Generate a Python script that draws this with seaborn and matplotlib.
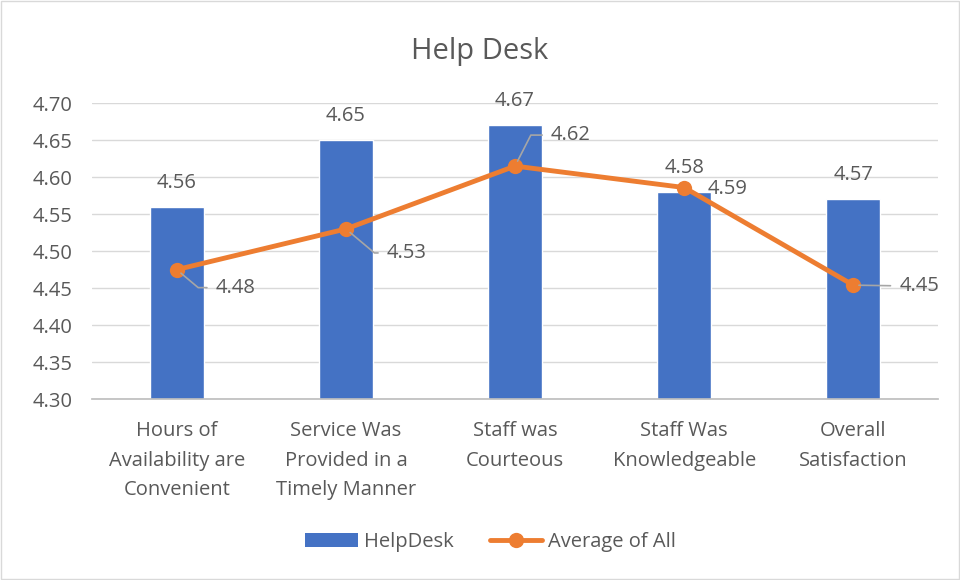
import numpy as np
import pandas as pd
import matplotlib
matplotlib.use("Agg")
import matplotlib.pyplot as plt
import seaborn as sns
from matplotlib.patches import Patch, Rectangle
from matplotlib.lines import Line2D

categories = ["Hours of\nAvailability are\nConvenient",
              "Service Was\nProvided in a\nTimely Manner",
              "Staff was\nCourteous",
              "Staff Was\nKnowledgeable",
              "Overall\nSatisfaction"]
helpdesk = [4.56, 4.65, 4.67, 4.58, 4.57]
average_all = [4.475, 4.53, 4.615, 4.586, 4.454]
average_labels = ["4.48", "4.53", "4.62", "4.59", "4.45"]
yticks = [4.30, 4.35, 4.40, 4.45, 4.50, 4.55, 4.60, 4.65, 4.70]

sns.set_theme(style="white")
plt.rcParams['font.family'] = ['Open Sans', 'DejaVu Sans']
TXT = "#595959"
BLUE = "#4472C4"
ORANGE = "#ED7D31"
FS = 14.5

fig = plt.figure(figsize=(9.6, 5.8), dpi=100)
ax = fig.add_axes([0.096, 0.312, 0.881, 0.510])

df = pd.DataFrame({"cat": categories, "HelpDesk": helpdesk, "avg": average_all})
sns.barplot(data=df, x="cat", y="HelpDesk", color=BLUE, saturation=1, width=0.32, ax=ax, zorder=2)
xs = np.arange(len(categories))
sns.lineplot(x=xs, y=average_all, color=ORANGE, linewidth=3.5, marker="o", markersize=11,
             markeredgewidth=0, ax=ax, zorder=3)

ax.set_ylim(4.30, 4.70)
ax.set_xlim(-0.5, len(categories) - 0.5)
ax.set_yticks(yticks)
ax.set_yticklabels([f"{v:.2f}" for v in yticks])
ax.yaxis.grid(True, color="#D9D9D9", linewidth=1, zorder=0)
ax.set_axisbelow(True)
for s in ["left", "right", "top"]:
    ax.spines[s].set_visible(False)
ax.spines["bottom"].set_color("#BFBFBF")
ax.tick_params(axis="both", length=0, labelsize=FS, labelcolor=TXT)
ax.tick_params(axis="y", pad=14)
ax.tick_params(axis="x", pad=16)
ax.set_xlabel("")
ax.set_ylabel("")
for lab in ax.get_xticklabels():
    lab.set_linespacing(1.63)

# bar labels
for i, v in enumerate(helpdesk):
    ax.annotate(f"{v:.2f}", xy=(i, v), xytext=(0, 24), textcoords="offset pixels",
                ha="center", va="center", fontsize=FS, color=TXT)

# line labels with leaders
offsets = [(39, -18), (41, -24), (36, 31), (23, -1), (46, -1)]
conns = ["angle,angleA=0,angleB=-40,rad=0", "angle,angleA=0,angleB=-40,rad=0",
         "angle,angleA=0,angleB=63,rad=0", None, "arc3,rad=0"]
for i, (v, lab) in enumerate(zip(average_all, average_labels)):
    arrow = None
    if conns[i] is not None:
        arrow = dict(arrowstyle="-", color="#A6A6A6", lw=1.2, shrinkA=4, shrinkB=4,
                     connectionstyle=conns[i])
    ax.annotate(lab, xy=(i, v), xytext=offsets[i], textcoords="offset pixels",
                ha="left", va="center", fontsize=FS, color=TXT, arrowprops=arrow, zorder=4)

fig.text(0.5, 0.912, "Help Desk", ha="center", va="center", fontsize=21, color=TXT)

handles = [Patch(facecolor=BLUE, edgecolor="none"),
           Line2D([0], [0], color=ORANGE, lw=3.5, marker="o", markersize=11, markeredgewidth=0)]
fig.legend(handles, ["HelpDesk", "Average of All"], loc="center", bbox_to_anchor=(0.511, 0.066),
           ncol=2, frameon=False, fontsize=FS, labelcolor=TXT, handlelength=2.6,
           handletextpad=0.3, columnspacing=1.8)

fig.add_artist(Rectangle((0.001, 0.001), 0.998, 0.998, transform=fig.transFigure,
                         fill=False, edgecolor="#D9D9D9", lw=1))

fig.savefig("out.png", dpi=100, facecolor="white")
